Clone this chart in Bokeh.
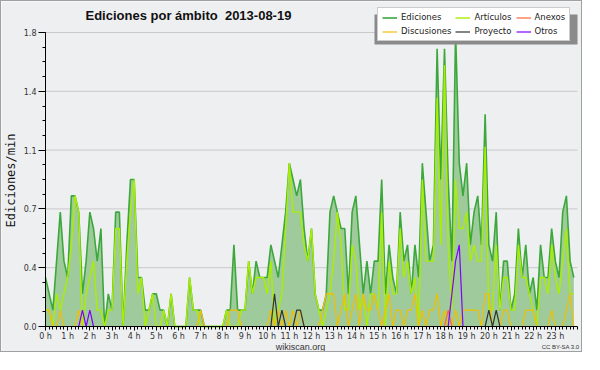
import math
from bokeh.plotting import figure
from bokeh.models import (ColumnDataSource, FixedTicker, PrintfTickFormatter, Legend,
                          LegendItem, Label, BoxAnnotation, Range1d)
from bokeh.embed import file_html
from bokeh.resources import INLINE

# 10-minute bins, expressed in hours
horas = [i / 6 for i in range(144)]

ediciones = [0.3,0.2,0.1,0.4,0.7,0.4,0.3,0.8,0.8,0.7,
             0.2,0.4,0.7,0.6,0.4,0.6,0.0,0.2,0.1,0.7,
             0.7,0.0,0.5,0.9,0.9,0.3,0.3,0.1,0.1,0.2,
             0.2,0.1,0.1,0.0,0.2,0.0,0.0,0.0,0.0,0.3,
             0.1,0.1,0.1,0.0,0.0,0.0,0.0,0.0,0.0,0.1,
             0.1,0.5,0.1,0.1,0.1,0.4,0.2,0.4,0.3,0.3,
             0.3,0.5,0.4,0.3,0.5,0.7,1.0,0.9,0.8,0.9,
             0.6,0.4,0.6,0.2,0.1,0.1,0.2,0.7,0.8,0.7,
             0.6,0.6,0.2,0.7,0.8,0.5,0.2,0.4,0.2,0.4,
             0.4,0.9,0.2,0.5,0.3,0.2,0.7,0.4,0.5,0.2,
             0.5,0.3,1.0,0.7,0.4,0.5,1.7,0.9,1.7,0.9,
             0.4,1.8,1.0,0.8,1.0,0.5,0.7,0.8,0.5,1.3,
             0.5,0.4,0.7,0.1,0.4,0.4,0.1,0.2,0.6,0.3,
             0.5,0.2,0.3,0.1,0.5,0.3,0.3,0.6,0.4,0.3,
             0.7,0.8,0.4,0.3]

articulos = [0.1,0.1,0.0,0.2,0.1,0.2,0.3,0.5,0.8,0.7,
             0.0,0.2,0.3,0.4,0.1,0.1,0.0,0.1,0.1,0.6,
             0.6,0.0,0.4,0.7,0.9,0.2,0.3,0.0,0.1,0.2,
             0.0,0.0,0.1,0.0,0.2,0.0,0.0,0.0,0.0,0.3,
             0.1,0.1,0.0,0.0,0.0,0.0,0.0,0.0,0.0,0.1,
             0.0,0.0,0.0,0.1,0.1,0.4,0.2,0.3,0.3,0.3,
             0.2,0.4,0.0,0.1,0.2,0.6,1.0,0.7,0.7,0.7,
             0.5,0.4,0.6,0.2,0.1,0.0,0.1,0.2,0.4,0.7,
             0.5,0.1,0.1,0.5,0.4,0.1,0.2,0.0,0.2,0.2,
             0.1,0.7,0.0,0.4,0.2,0.2,0.6,0.3,0.4,0.2,
             0.3,0.0,0.9,0.4,0.4,0.4,1.4,0.5,1.6,0.5,
             0.1,0.9,0.6,0.6,0.7,0.4,0.5,0.4,0.4,1.1,
             0.1,0.1,0.5,0.1,0.3,0.3,0.1,0.1,0.5,0.3,
             0.3,0.2,0.1,0.0,0.3,0.3,0.2,0.5,0.3,0.2,
             0.4,0.6,0.2,0.2]

discusiones = [0.1,0.1,0.0,0.0,0.1,0.0,0.0,0.0,0.0,0.1,
               0.0,0.0,0.0,0.0,0.0,0.0,0.0,0.0,0.0,0.0,
               0.0,0.0,0.0,0.0,0.0,0.0,0.0,0.0,0.0,0.0,
               0.0,0.0,0.0,0.0,0.0,0.0,0.0,0.0,0.0,0.0,
               0.0,0.0,0.1,0.0,0.0,0.0,0.0,0.0,0.0,0.0,
               0.1,0.1,0.1,0.0,0.0,0.0,0.0,0.0,0.0,0.0,
               0.0,0.1,0.0,0.1,0.0,0.1,0.0,0.1,0.0,0.1,
               0.0,0.0,0.0,0.0,0.0,0.1,0.2,0.2,0.2,0.0,
               0.1,0.2,0.0,0.1,0.2,0.0,0.2,0.1,0.1,0.2,
               0.1,0.0,0.1,0.2,0.0,0.1,0.1,0.0,0.1,0.1,
               0.2,0.0,0.1,0.0,0.1,0.1,0.2,0.0,0.1,0.0,
               0.0,0.1,0.0,0.1,0.1,0.1,0.1,0.1,0.0,0.2,
               0.2,0.0,0.0,0.0,0.1,0.1,0.0,0.0,0.0,0.0,
               0.1,0.1,0.1,0.0,0.0,0.0,0.0,0.1,0.0,0.0,
               0.0,0.1,0.2,0.0]

anexos = [0.0,0.0,0.0,0.0,0.0,0.0,0.0,0.0,0.0,0.0,
          0.0,0.0,0.0,0.0,0.0,0.0,0.0,0.0,0.0,0.0,
          0.0,0.0,0.0,0.0,0.0,0.0,0.0,0.0,0.0,0.0,
          0.0,0.0,0.0,0.0,0.0,0.0,0.0,0.0,0.0,0.0,
          0.0,0.0,0.0,0.0,0.0,0.0,0.0,0.0,0.0,0.0,
          0.0,0.0,0.0,0.0,0.0,0.0,0.0,0.0,0.0,0.0,
          0.0,0.0,0.0,0.0,0.0,0.0,0.0,0.0,0.0,0.0,
          0.0,0.0,0.0,0.0,0.0,0.0,0.0,0.0,0.0,0.0,
          0.0,0.0,0.0,0.0,0.0,0.0,0.0,0.0,0.0,0.0,
          0.0,0.0,0.0,0.0,0.0,0.0,0.0,0.0,0.0,0.0,
          0.0,0.0,0.0,0.0,0.0,0.0,0.0,0.0,0.0,0.1,
          0.0,0.0,0.0,0.0,0.0,0.0,0.0,0.0,0.0,0.0,
          0.0,0.0,0.0,0.0,0.0,0.0,0.0,0.0,0.0,0.0,
          0.0,0.0,0.0,0.0,0.0,0.0,0.0,0.0,0.0,0.0,
          0.0,0.0,0.0,0.0]

proyecto = [0.0,0.0,0.0,0.0,0.0,0.0,0.0,0.0,0.0,0.0,
            0.0,0.0,0.0,0.0,0.0,0.0,0.0,0.0,0.0,0.0,
            0.0,0.0,0.0,0.0,0.0,0.0,0.0,0.0,0.0,0.0,
            0.0,0.0,0.0,0.0,0.0,0.0,0.0,0.0,0.0,0.0,
            0.0,0.0,0.0,0.0,0.0,0.0,0.0,0.0,0.0,0.0,
            0.0,0.0,0.0,0.0,0.0,0.0,0.0,0.0,0.0,0.0,
            0.0,0.0,0.2,0.0,0.1,0.0,0.0,0.0,0.1,0.1,
            0.0,0.0,0.0,0.0,0.0,0.0,0.0,0.0,0.0,0.0,
            0.0,0.0,0.0,0.0,0.0,0.0,0.0,0.0,0.0,0.0,
            0.0,0.0,0.0,0.0,0.0,0.0,0.0,0.0,0.0,0.0,
            0.0,0.0,0.0,0.0,0.0,0.0,0.0,0.0,0.0,0.0,
            0.0,0.0,0.0,0.0,0.0,0.0,0.0,0.0,0.0,0.0,
            0.1,0.0,0.1,0.0,0.0,0.0,0.0,0.0,0.0,0.0,
            0.0,0.0,0.0,0.0,0.0,0.0,0.0,0.0,0.0,0.0,
            0.0,0.0,0.0,0.0]

otros = [0.0,0.0,0.0,0.0,0.0,0.0,0.0,0.0,0.0,0.0,
         0.1,0.0,0.1,0.0,0.0,0.0,0.0,0.0,0.0,0.0,
         0.0,0.0,0.0,0.0,0.0,0.0,0.0,0.0,0.0,0.0,
         0.0,0.0,0.0,0.0,0.0,0.0,0.0,0.0,0.0,0.0,
         0.0,0.0,0.0,0.0,0.0,0.0,0.0,0.0,0.0,0.0,
         0.0,0.0,0.0,0.0,0.0,0.0,0.0,0.0,0.0,0.0,
         0.0,0.0,0.0,0.0,0.0,0.0,0.0,0.0,0.0,0.0,
         0.0,0.0,0.0,0.0,0.0,0.0,0.0,0.0,0.0,0.0,
         0.0,0.0,0.0,0.0,0.0,0.0,0.0,0.0,0.0,0.0,
         0.0,0.0,0.0,0.0,0.0,0.0,0.0,0.0,0.0,0.0,
         0.0,0.0,0.0,0.0,0.0,0.0,0.0,0.0,0.0,0.0,
         0.2,0.4,0.5,0.0,0.0,0.0,0.0,0.0,0.0,0.0,
         0.0,0.0,0.0,0.0,0.0,0.0,0.0,0.0,0.0,0.0,
         0.0,0.0,0.0,0.0,0.0,0.0,0.0,0.0,0.0,0.0,
         0.0,0.0,0.0,0.0]

x_ticks = list(range(24))
x_minor = [k / 6 for k in range(145)]
y_ticks = [0.0, 0.36, 0.72, 1.08, 1.44, 1.8]
y_minor = [k * 0.09 for k in range(21)]
X_MAX, Y_MAX = 24, 1.8

src = ColumnDataSource(dict(x=horas, ed=ediciones, art=articulos, disc=discusiones,
                            anx=anexos, proy=proyecto, otr=otros))

BG = "#eeeff1"
W, H = 582, 352
# frame covers the whole canvas; data area (canvas px): x 44..576, y 31..325 (from top)
DX0, DX1, DY0, DY1 = 44, 576, 31, 325
PX_H = (DX1 - DX0) / X_MAX
PX_V = (DY1 - DY0) / Y_MAX
x_rng = Range1d(-DX0 / PX_H, X_MAX + (W - DX1) / PX_H)
y_rng = Range1d(-(H - DY1) / PX_V, Y_MAX + DY0 / PX_V)

p = figure(width=W, height=H, x_range=x_rng, y_range=y_rng,
           output_backend="svg", toolbar_location=None,
           min_border_left=0, min_border_right=0, min_border_top=0, min_border_bottom=0,
           background_fill_color=BG, border_fill_color=BG, outline_line_color=None)
p.styles = {"border": "1px solid #a0a0a0"}

p.xgrid.visible = False
p.ygrid.visible = False
# horizontal grid lines over the data area only
p.segment(x0=0, x1=X_MAX, y0=y_ticks[1:], y1=y_ticks[1:], line_color="#c9c9c9", line_width=1)

p.xaxis.ticker = FixedTicker(ticks=x_ticks, minor_ticks=x_minor)
p.xaxis.formatter = PrintfTickFormatter(format="%d h")
p.yaxis.ticker = FixedTicker(ticks=y_ticks, minor_ticks=y_minor)
p.yaxis.formatter = PrintfTickFormatter(format="%.1f")
p.xaxis.fixed_location = 0
p.yaxis.fixed_location = 0
p.xaxis.bounds = (0, X_MAX)
p.yaxis.bounds = (0, Y_MAX)
for ax in (p.xaxis[0], p.yaxis[0]):
    ax.axis_line_color = "black"
    ax.major_tick_line_color = "black"
    ax.minor_tick_line_color = "black"
    ax.major_tick_in = 0
    ax.minor_tick_in = 0
    ax.major_label_text_font = "DejaVu Sans"
    ax.major_label_text_font_size = "8px"
    ax.major_label_text_color = "#333333"
    ax.major_label_standoff = 2
p.xaxis.major_tick_out = 4
p.xaxis.minor_tick_out = 3
p.xaxis.major_label_standoff = 1
p.yaxis.major_tick_out = 7
p.yaxis.minor_tick_out = 3

p.varea(x="x", y1=0, y2="ed", source=src, fill_color="#9fcb9c", fill_alpha=1)
r_ed = p.line("x", "ed", source=src, line_color="#3ca83c", line_width=1.6)
r_art = p.line("x", "art", source=src, line_color="#aaee00", line_width=1.4)
r_disc = p.line("x", "disc", source=src, line_color="#f2bf00", line_width=1.2)
r_anx = p.line("x", "anx", source=src, line_color="#ff6633", line_width=1.2)
r_proy = p.line("x", "proy", source=src, line_color="#333333", line_width=1.2)
r_otr = p.line("x", "otr", source=src, line_color="#8000ff", line_width=1.2)

# legend (screen coordinates, origin bottom-left of canvas)
LW, LH = 203, 30
LX, LY = 579 - LW, H - 40
shadow = BoxAnnotation(left=LX - 3, right=LX - 3 + LW, bottom=LY - 3, top=LY - 3 + LH,
                       left_units="screen", right_units="screen",
                       bottom_units="screen", top_units="screen",
                       fill_color="#8a8a8a", fill_alpha=1, line_color=None)
p.add_layout(shadow)

legend = Legend(items=[LegendItem(label="Ediciones", renderers=[r_ed]),
                       LegendItem(label="Discusiones", renderers=[r_disc]),
                       LegendItem(label="Artículos", renderers=[r_art]),
                       LegendItem(label="Proyecto", renderers=[r_proy]),
                       LegendItem(label="Anexos", renderers=[r_anx]),
                       LegendItem(label="Otros", renderers=[r_otr])],
                ncols=3, location=(LX, LY), padding=4, spacing=4, margin=0,
                glyph_width=15, glyph_height=9, label_height=9, label_standoff=4,
                label_text_font="DejaVu Sans", label_text_font_size="8.5px",
                label_text_color="#222222", border_line_color="#999999",
                background_fill_color="white", background_fill_alpha=1)
p.add_layout(legend)

p.add_layout(Label(x=84, y=H - 14, x_units="screen", y_units="screen",
                   text="Ediciones por ámbito\u00a0\u00a02013-08-19", text_font="Liberation Sans",
                   text_font_style="bold", text_font_size="13px", text_baseline="middle",
                   text_color="#111111"))
p.add_layout(Label(x=9, y=H - 179, x_units="screen", y_units="screen", angle=math.pi / 2,
                   text="Ediciones/min", text_font="DejaVu Sans Mono", text_font_size="12px",
                   text_align="center", text_baseline="middle", text_color="#111111"))
p.add_layout(Label(x=299, y=7, x_units="screen", y_units="screen", text="wikiscan.org",
                   text_font="Liberation Sans", text_font_size="9px", text_align="center",
                   text_baseline="middle", text_color="#333333"))
p.add_layout(Label(x=578, y=7, x_units="screen", y_units="screen", text="CC BY-SA 3.0",
                   text_font="Liberation Sans", text_font_size="6px", text_align="right",
                   text_baseline="middle", text_color="#333333"))

open("out.html", "w").write(file_html(p, INLINE))
